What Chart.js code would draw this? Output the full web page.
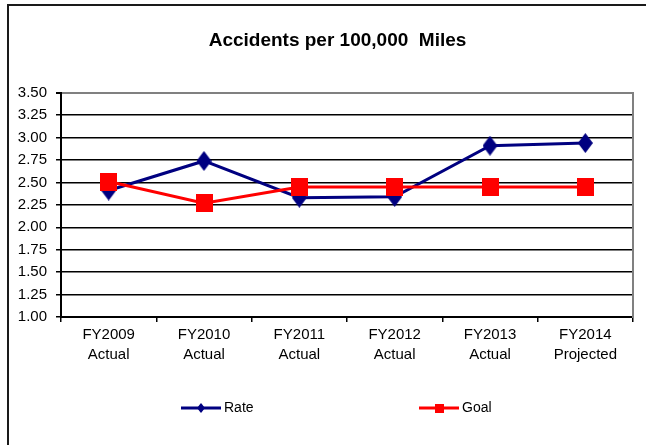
<!DOCTYPE html>
<html>
<head>
<meta charset="utf-8">
<title>Accidents per 100,000 Miles</title>
<script src="https://cdn.jsdelivr.net/npm/chart.js@4.4.1/dist/chart.umd.min.js"></script>
<style>
  html, body { margin: 0; padding: 0; background: #fff; overflow: hidden; }
  #frame { position: absolute; left: 7px; top: 4px; width: 680px; height: 480px;
           border-left: 2px solid #1a1a1a; border-top: 2px solid #1a1a1a; }
  #accidents { position: absolute; left: 0; top: 0; }
</style>
</head>
<body>
<div id="frame"></div>
<canvas id="accidents" width="672" height="445"></canvas>
<script>
const categories = [
    ['FY2009', 'Actual'],
    ['FY2010', 'Actual'],
    ['FY2011', 'Actual'],
    ['FY2012', 'Actual'],
    ['FY2013', 'Actual'],
    ['FY2014', 'Projected']
];
const rateValues = [2.41, 2.74, 2.33, 2.34, 2.91, 2.94];
const goalValues = [2.51, 2.27, 2.45, 2.45, 2.45, 2.45];
const yTicks = [1.00, 1.25, 1.50, 1.75, 2.00, 2.25, 2.50, 2.75, 3.00, 3.25, 3.50];

const FONT = '"Liberation Sans", Arial, sans-serif';
const NAVY = '#000080';
const RED = '#ff0000';

function diamond(w, h, color) {
    const c = document.createElement('canvas');
    c.width = w; c.height = h;
    const g = c.getContext('2d');
    g.fillStyle = color;
    g.beginPath();
    g.moveTo(w / 2, 0);
    g.lineTo(w, h / 2);
    g.lineTo(w / 2, h);
    g.lineTo(0, h / 2);
    g.closePath();
    g.fill();
    return c;
}

function square(w, h, color) {
    const c = document.createElement('canvas');
    c.width = w; c.height = h;
    const g = c.getContext('2d');
    g.fillStyle = color;
    g.fillRect(0, 0, w, h);
    return c;
}

// small markers for the legend, same order as the datasets
const legendMarkers = [diamond(8, 10, NAVY), square(9, 9, RED)];

// excel-style legend: line with a marker in the middle
const lineLegend = {
    id: 'lineLegend',
    afterDraw(chart, args, opts) {
        const ctx = chart.ctx;
        ctx.save();
        chart.data.datasets.forEach((ds, i) => {
            const x = opts.xs[i];
            const y = opts.y;
            ctx.strokeStyle = ds.borderColor;
            ctx.lineWidth = 3;
            ctx.beginPath();
            ctx.moveTo(x, y);
            ctx.lineTo(x + 40, y);
            ctx.stroke();
            const m = legendMarkers[i];
            ctx.drawImage(m, Math.round(x + 20 - m.width / 2), Math.round(y - m.height / 2));
            ctx.fillStyle = '#000';
            ctx.font = '14px ' + FONT;
            ctx.textBaseline = 'middle';
            ctx.fillText(ds.label, x + 43, y);
        });
        ctx.restore();
    }
};

const ctx = document.getElementById('accidents').getContext('2d');

new Chart(ctx, {
    type: 'line',
    data: {
        labels: categories,
        datasets: [{
            label: 'Rate',
            data: rateValues,
            borderColor: NAVY,
            backgroundColor: NAVY,
            borderWidth: 3,
            pointStyle: diamond(15, 20, NAVY),
            tension: 0,
            order: 1
        }, {
            label: 'Goal',
            data: goalValues,
            borderColor: RED,
            backgroundColor: RED,
            borderWidth: 3,
            pointStyle: square(17, 18, RED),
            tension: 0,
            order: 0
        }]
    },
    options: {
        responsive: false,
        animation: false,
        devicePixelRatio: 1,
        layout: {
            padding: { left: 3, right: 0, top: 0, bottom: 68 }
        },
        plugins: {
            legend: { display: false },
            tooltip: { enabled: false },
            title: {
                display: true,
                text: 'Accidents per 100,000  Miles',
                color: '#000',
                font: { family: FONT, size: 19, weight: 'bold' },
                padding: { top: 29, bottom: 41 }
            },
            lineLegend: { xs: [181, 419], y: 408 }
        },
        scales: {
            x: {
                offset: true,
                afterFit: axis => { axis.height = 60; },
                grid: {
                    display: true,
                    offset: true,
                    drawOnChartArea: false,
                    drawTicks: true,
                    tickLength: 5,
                    color: '#000',
                    lineWidth: 1.5
                },
                border: { color: '#000', width: 2 },
                ticks: {
                    color: '#000',
                    padding: 3,
                    maxRotation: 0,
                    autoSkip: false,
                    font: { family: FONT, size: 15, lineHeight: 1.33 }
                }
            },
            y: {
                min: 1,
                max: 3.5,
                afterFit: axis => { axis.width = 58; },
                afterBuildTicks: axis => { axis.ticks = yTicks.map(v => ({ value: v })); },
                grid: {
                    color: c => (c.tick && c.tick.value === 3.5) ? '#808080' : '#000',
                    lineWidth: c => (c.tick && c.tick.value === 3.5) ? 2 : 1.5,
                    tickColor: '#000',
                    tickLength: 5
                },
                border: { color: '#000', width: 2 },
                ticks: {
                    color: '#000',
                    padding: 9,
                    font: { family: FONT, size: 15 },
                    callback: v => Number(v).toFixed(2)
                }
            },
            yRight: {
                position: 'right',
                min: 0,
                max: 1,
                afterFit: axis => { axis.width = 39; },
                grid: { drawOnChartArea: false, drawTicks: false },
                ticks: { display: false },
                border: { color: '#808080', width: 2 }
            }
        }
    },
    plugins: [lineLegend]
});
</script>
</body>
</html>
